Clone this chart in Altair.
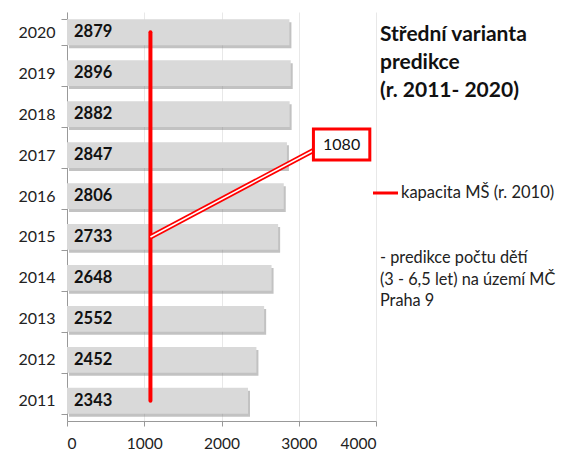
import altair as alt
import pandas as pd

years = ["2011", "2012", "2013", "2014", "2015", "2016", "2017", "2018", "2019", "2020"]
values = [2343, 2452, 2552, 2648, 2733, 2806, 2847, 2882, 2896, 2879]
capacity = 1080
capacity_label = "kapacita MŠ (r. 2010)"
title_lines = ["Střední varianta", "predikce", "(r. 2011- 2020)"]
note_lines = ["- predikce počtu dětí", "(3 - 6,5 let) na území MČ", "Praha 9"]
x_ticks = [0, 1000, 2000, 3000, 4000]

FONT = "Lato"
df = pd.DataFrame({"year": years, "value": values})
order = list(reversed(years))
yscale = alt.Scale(domain=order, paddingInner=0.37, paddingOuter=0.18)

yenc = alt.Y("year:N", scale=yscale,
             axis=alt.Axis(title=None, tickBand="extent", labelFontSize=16, labelColor="#222",
                           labelFont=FONT, domainColor="#999", tickColor="#999", tickSize=6,
                           labelPadding=6, grid=False))
xenc = alt.X("value:Q", scale=alt.Scale(domain=[0, 4000], nice=False),
             axis=alt.Axis(title=None, values=x_ticks, labelFontSize=15.5, labelColor="#222",
                           labelFont=FONT, domainColor="#999", tickColor="#999", tickSize=5,
                           gridColor="#e8e8e8", labelPadding=10, format="d"))

base = alt.Chart(df)
shadow = base.mark_bar(color="#777", opacity=0.45, xOffset=2, yOffset=3).encode(x=xenc, y=yenc)
bars = base.mark_bar(color="#d9d9d9").encode(x=xenc, y=yenc)
labels = base.mark_text(align="left", dx=7, fontWeight="bold", fontSize=16.5, font=FONT,
                        color="#111").encode(x=alt.datum(0), y=alt.Y("year:N", scale=yscale), text="value:Q")

cap_df = pd.DataFrame({"x": [capacity], "y1": [years[-1]], "y2": [years[0]]})
rule = alt.Chart(cap_df).mark_rule(color="red", strokeWidth=4, strokeCap="round").encode(
    x="x:Q", y=alt.Y("y1:N", scale=yscale), y2="y2:N")

call_df = pd.DataFrame({"x": [capacity], "y": ["2015"], "x2": [3200]})
call_outer = alt.Chart(call_df).mark_rule(color="red", strokeWidth=5).encode(
    x="x:Q", y=alt.Y("y:N", scale=yscale), x2="x2:Q", y2=alt.value(138))
call_inner = alt.Chart(call_df).mark_rule(color="white", strokeWidth=1.5).encode(
    x="x:Q", y=alt.Y("y:N", scale=yscale), x2="x2:Q", y2=alt.value(138))

box_df = pd.DataFrame({"x": [3190], "x2": [3920], "t": [str(capacity)]})
box = alt.Chart(box_df).mark_rect(fill="white", stroke="red", strokeWidth=3).encode(
    x="x:Q", x2="x2:Q", y=alt.value(117), y2=alt.value(148))
box_text = alt.Chart(box_df).mark_text(fontSize=16, font=FONT, color="#111").encode(
    x=alt.datum(3555), y=alt.value(133), text="t:N")

leg_df = pd.DataFrame({"t": [capacity_label]})
leg_line = alt.Chart(leg_df).mark_rule(color="red", strokeWidth=3).encode(
    x=alt.value(306), x2=alt.value(331), y=alt.value(181))
leg_text = alt.Chart(leg_df).mark_text(align="left", baseline="middle", fontSize=16.5, font=FONT,
                                        color="#222").encode(x=alt.value(334), y=alt.value(181), text="t:N")

title_df = pd.DataFrame({"t": [title_lines]})
title = alt.Chart(title_df).mark_text(align="left", baseline="top", fontSize=21, fontWeight="bold",
                                      font=FONT, color="#111", lineHeight=28).encode(
    x=alt.value(313), y=alt.value(12), text="t")
note_df = pd.DataFrame({"t": [note_lines]})
note = alt.Chart(note_df).mark_text(align="left", baseline="top", fontSize=16.3, font=FONT,
                                    color="#222", lineHeight=21.5).encode(
    x=alt.value(313), y=alt.value(238), text="t")

chart = alt.layer(shadow, bars, labels, rule, call_outer, call_inner, box, box_text,
                  leg_line, leg_text, title, note).properties(
    width=309, height=409,
    autosize=alt.AutoSizeParams(type="none"),
    padding={"left": 59, "top": 4, "right": 181, "bottom": 33},
    background="white",
).configure_view(stroke=None)

chart.save("out.html", embed_options={"renderer": "svg", "actions": False})
